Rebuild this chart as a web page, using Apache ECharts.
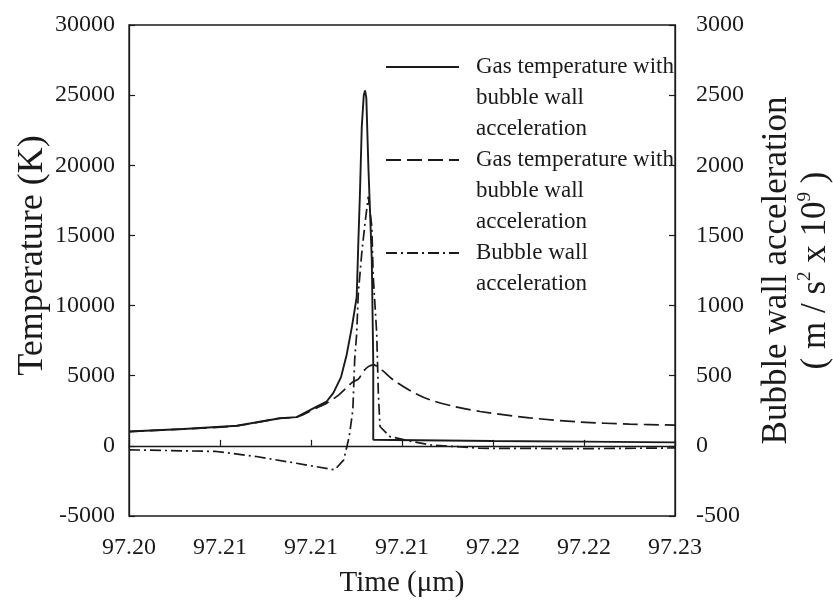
<!DOCTYPE html>
<html>
<head>
<meta charset="utf-8">
<script src="https://cdn.jsdelivr.net/npm/echarts@6/dist/echarts.min.js"></script>
<style>
html,body{margin:0;padding:0;background:#fff;}
#chart{width:833px;height:607px;}
</style>
</head>
<body>
<div id="chart"></div>
<script>
// x tick labels (as printed in the original)
var xTickLabels = ['97.20', '97.21', '97.21', '97.21', '97.22', '97.22', '97.23'];

// Gas temperature with bubble wall acceleration (solid)
var timeSolid = [97.2, 97.203, 97.20592, 97.2083, 97.20921, 97.21031, 97.21086, 97.21123, 97.21165, 97.21196, 97.21225, 97.21251, 97.2126, 97.21269, 97.21279, 97.2129, 97.21297, 97.21304, 97.21315, 97.21334, 97.21342, 97.21342, 97.2145, 97.22, 97.225, 97.23];
var tempSolid = [1020, 1200, 1430, 1970, 2050, 2800, 3160, 3780, 4900, 6500, 8500, 10600, 14470, 18030, 22760, 25000, 25330, 24800, 20000, 13260, 6000, 430, 420, 350, 300, 250];

// Gas temperature (dashed)
var timeDashed = [97.2, 97.203, 97.20592, 97.2083, 97.20921, 97.21031, 97.21086, 97.2115, 97.212, 97.21232, 97.2126, 97.21287, 97.21315, 97.21342, 97.2139, 97.21452, 97.2155, 97.21654, 97.2179, 97.21929, 97.222, 97.2248, 97.2275, 97.23];
var tempDashed = [1020, 1200, 1430, 1970, 2050, 2700, 3040, 3600, 4200, 4580, 4750, 5300, 5650, 5770, 5400, 4700, 3900, 3280, 2800, 2450, 2000, 1700, 1550, 1480];

// Bubble wall acceleration (dash-dot, right axis)
var timeAccel = [97.2, 97.2048, 97.207, 97.2092, 97.2113, 97.2118, 97.2121, 97.2123, 97.2124, 97.21251, 97.2126, 97.21279, 97.21297, 97.21315, 97.21334, 97.21342, 97.21361, 97.2137, 97.21379, 97.21434, 97.2156, 97.21654, 97.21929, 97.225, 97.23];
var accel = [-28, -40, -76, -124, -171, -100, 66, 257, 613, 800, 1090, 1376, 1590, 1777, 1563, 1207, 803, 376, 138, 66, 30, 7, -17, -20, -15];

var seriesNames = [
  'Gas temperature with\nbubble wall\nacceleration',
  'Gas temperature with\nbubble wall\nacceleration\u200b',
  'Bubble wall\nacceleration'
];

function zip(xs, ys) { return xs.map(function (x, i) { return [x, ys[i]]; }); }
function plain(v) { return String(v); }

var FONT = 'Liberation Serif';
var INK = '#1a1a1a';
var LH = 31;

var chart = echarts.init(document.getElementById('chart'), null, {renderer: 'canvas'});
chart.setOption({
  animation: false,
  backgroundColor: '#fff',
  textStyle: {fontFamily: FONT, color: INK},
  grid: {left: 129, right: 158, top: 25, bottom: 91, show: true, borderColor: INK, borderWidth: 1.3, backgroundColor: 'transparent', outerBoundsMode: 'none', containLabel: false},
  legend: {
    orient: 'vertical',
    left: 385,
    top: -10.5,
    padding: 0,
    itemGap: -62,
    itemWidth: 73,
    itemHeight: 14,
    selectedMode: false,
    itemStyle: {opacity: 0, borderWidth: 0},
    textStyle: {fontFamily: FONT, fontSize: 23, color: INK, lineHeight: LH, padding: [0, 0, 0, 12]},
    formatter: function (name) {
      var n = name.split('\n').length;
      return '\n\n' + name + (n < 3 ? '\n' : '');
    },
    data: seriesNames
  },
  xAxis: {
    type: 'value',
    min: 97.2, max: 97.23, interval: 0.005,
    name: 'Time (\u03bcm)',
    nameLocation: 'middle',
    nameGap: 53,
    nameMoveOverlap: false,
    nameTextStyle: {fontFamily: FONT, fontSize: 29, color: INK},
    axisLine: {show: true, lineStyle: {color: INK, width: 1.3}},
    axisTick: {show: true, inside: true, length: 6, lineStyle: {color: INK, width: 1.2}},
    axisLabel: {
      fontFamily: FONT, fontSize: 24, color: INK, margin: 20,
      formatter: function (v) { return xTickLabels[Math.round((v - 97.2) / 0.005)]; }
    },
    splitLine: {show: false}
  },
  yAxis: [
    {
      type: 'value', position: 'left',
      min: -5000, max: 30000, interval: 5000,
      name: 'Temperature (K)',
      nameLocation: 'middle', nameRotate: 90, nameGap: 78,
      nameMoveOverlap: false,
      nameTextStyle: {fontFamily: FONT, fontSize: 36, color: INK, padding: [0, 0, 0, 30]},
      axisLine: {show: true, lineStyle: {color: INK, width: 1.3}},
      axisTick: {show: true, inside: true, length: 6, lineStyle: {color: INK, width: 1.2}},
      axisLabel: {fontFamily: FONT, fontSize: 24, color: INK, margin: 14, formatter: plain},
      splitLine: {show: false}
    },
    {
      type: 'value', position: 'right',
      min: -500, max: 3000, interval: 500,
      name: 'Bubble wall acceleration\n( m / s{sup|2} x 10{sup|9} )',
      nameLocation: 'middle', nameRotate: 90, nameGap: 82,
      nameMoveOverlap: false,
      nameTextStyle: {
        fontFamily: FONT, fontSize: 35, color: INK, lineHeight: 39,
        rich: {sup: {fontFamily: FONT, fontSize: 19, color: INK, verticalAlign: 'top', lineHeight: 39, padding: [0, 0, 14, 0]}}
      },
      axisLine: {show: true, lineStyle: {color: INK, width: 1.3}},
      axisTick: {show: true, inside: true, length: 6, lineStyle: {color: INK, width: 1.2}},
      axisLabel: {fontFamily: FONT, fontSize: 24, color: INK, margin: 21, formatter: plain},
      splitLine: {show: false}
    }
  ],
  series: [
    {
      name: seriesNames[0], type: 'line', yAxisIndex: 0,
      data: zip(timeSolid, tempSolid),
      symbol: 'none', smooth: false,
      lineStyle: {color: INK, width: 1.9, type: 'solid'},
      itemStyle: {color: INK}
    },
    {
      name: seriesNames[1], type: 'line', yAxisIndex: 0,
      data: zip(timeDashed, tempDashed),
      symbol: 'none', smooth: 0.3,
      lineStyle: {color: INK, width: 1.7, type: [15, 6]},
      itemStyle: {color: INK}
    },
    {
      name: seriesNames[2], type: 'line', yAxisIndex: 1,
      data: zip(timeAccel, accel),
      symbol: 'none', smooth: false,
      lineStyle: {color: INK, width: 1.7, type: [11, 4, 2, 4]},
      itemStyle: {color: INK}
    }
  ]
});
</script>
</body>
</html>
